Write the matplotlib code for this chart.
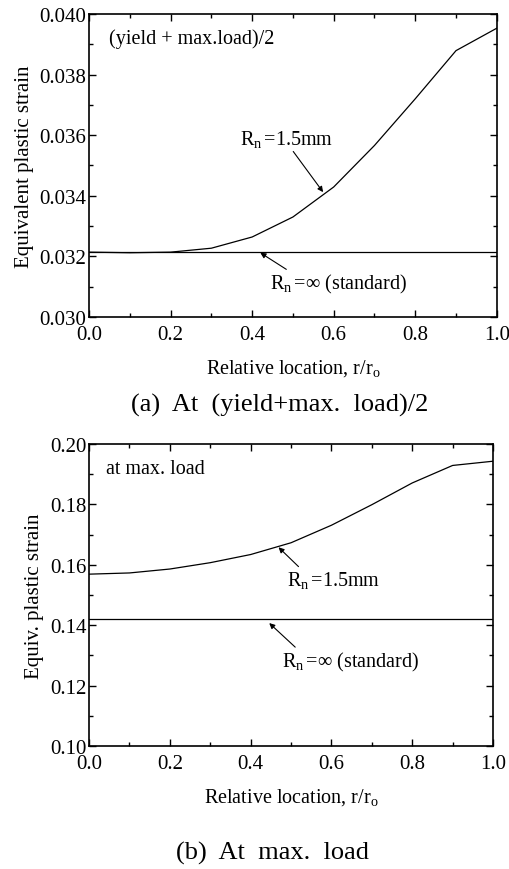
import numpy as np
import matplotlib
matplotlib.use('Agg')
import matplotlib.pyplot as plt
from matplotlib.ticker import MultipleLocator

plt.rcParams['font.family'] = 'Liberation Serif'
plt.rcParams['mathtext.fontset'] = 'custom'
plt.rcParams['mathtext.rm'] = 'Liberation Serif'
plt.rcParams['mathtext.it'] = 'Liberation Serif'

# datos
r = [0.0, 0.1, 0.2, 0.3, 0.4, 0.5, 0.6, 0.7, 0.8, 0.9, 1.0]
strain_a_rn15 = [0.03214, 0.03212, 0.03214, 0.03227, 0.03264, 0.03330, 0.03429, 0.03566, 0.03720, 0.03879, 0.03953]
strain_a_std = 0.03214
strain_b_rn15 = [0.1569, 0.1573, 0.1586, 0.1607, 0.1634, 0.1673, 0.1731, 0.1799, 0.1871, 0.1929, 0.1943]
strain_b_std = 0.1420

fig = plt.figure(figsize=(5.09, 8.70), dpi=100)
ax1 = fig.add_axes([0.175, 0.6345, 0.801, 0.3483])
ax2 = fig.add_axes([0.175, 0.1414, 0.7936, 0.3471])

def estilo(ax, ymin, ymax, major, minor):
    ax.set_xlim(0, 1)
    ax.set_ylim(ymin, ymax)
    ax.xaxis.set_major_locator(MultipleLocator(0.2))
    ax.xaxis.set_minor_locator(MultipleLocator(0.1))
    ax.yaxis.set_major_locator(MultipleLocator(major))
    ax.yaxis.set_minor_locator(MultipleLocator(minor))
    ax.tick_params(which='both', direction='in', top=True, right=True, labelsize=15, width=1)
    ax.tick_params(which='major', length=5)
    ax.tick_params(which='minor', length=3)
    ax.tick_params(axis='x', pad=6)
    ax.tick_params(axis='y', pad=2)
    for s in ax.spines.values():
        s.set_linewidth(1.2)

flecha = dict(arrowstyle='-|>', color='k', lw=0.8, shrinkA=0, shrinkB=0, mutation_scale=8)

# panel (a)
ax1.plot(r, strain_a_rn15, 'k', lw=0.9)
ax1.axhline(strain_a_std, color='k', lw=0.9)
estilo(ax1, 0.030, 0.040, 0.002, 0.001)
ax1.yaxis.set_major_formatter(plt.FormatStrFormatter('%.3f'))
ax1.xaxis.set_major_formatter(plt.FormatStrFormatter('%.1f'))
ax1.set_ylabel('Equivalent plastic strain', fontsize=15, labelpad=4)
ax1.set_xlabel('Relative location, r/r$_\\mathrm{o}$', fontsize=14.5, labelpad=9)
ax1.text(0.05, 0.0392, '(yield + max.load)/2', fontsize=14.5, va='center')
ax1.annotate('R$_\\mathrm{n}\\,$=1.5mm', xy=(0.574, 0.03412), xytext=(0.37, 0.0359),
             fontsize=14.5, va='center', arrowprops=dict(flecha, relpos=(0.55, 0.0)))
ax1.annotate('R$_\\mathrm{n}\\,$=\u221e (standard)', xy=(0.42, 0.03212), xytext=(0.444, 0.0311),
             fontsize=14.5, va='center', arrowprops=dict(flecha, relpos=(0.15, 1.0)))

# panel (b)
ax2.plot(r, strain_b_rn15, 'k', lw=0.9)
ax2.axhline(strain_b_std, color='k', lw=0.9)
estilo(ax2, 0.10, 0.20, 0.02, 0.01)
ax2.yaxis.set_major_formatter(plt.FormatStrFormatter('%.2f'))
ax2.xaxis.set_major_formatter(plt.FormatStrFormatter('%.1f'))
ax2.set_ylabel('Equiv. plastic strain', fontsize=15, labelpad=4)
ax2.set_xlabel('Relative location, r/r$_\\mathrm{o}$', fontsize=14.5, labelpad=9)
ax2.text(0.043, 0.1918, 'at max. load', fontsize=14.5, va='center')
ax2.annotate('R$_\\mathrm{n}\\,$=1.5mm', xy=(0.469, 0.1658), xytext=(0.491, 0.155),
             fontsize=14.5, va='center', arrowprops=dict(flecha, relpos=(0.15, 1.0)))
ax2.annotate('R$_\\mathrm{n}\\,$=\u221e (standard)', xy=(0.446, 0.1407), xytext=(0.477, 0.128),
             fontsize=14.5, va='center', arrowprops=dict(flecha, relpos=(0.12, 1.0)))

fig.text(0.55, 1 - 405 / 870, '(a)  At  (yield+max.  load)/2', fontsize=19, ha='center', va='center')
fig.text(0.536, 1 - 853 / 870, '(b)  At  max.  load', fontsize=19, ha='center', va='center')

fig.savefig('out.png', dpi=100)
